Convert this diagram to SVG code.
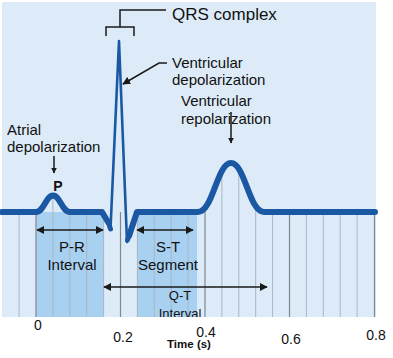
<svg xmlns="http://www.w3.org/2000/svg" width="393" height="358" viewBox="0 0 393 358">
<style>
text{font-family:"Liberation Sans",Arial,sans-serif;fill:#111}
.lbl{font-size:15px}
.ax{font-size:14px;text-anchor:middle}
.grid{stroke:#aab6c3;stroke-width:1}
.major{stroke:#7d8894;stroke-width:1.2}
.ptr{stroke:#1a1a1a;stroke-width:1.5;fill:none}
.ecg{fill:none;stroke:#1b58a4;stroke-linejoin:round;stroke-linecap:round}
</style>
<defs>
<marker id="ah" viewBox="0 0 10 10" refX="9" refY="5" markerWidth="6" markerHeight="6" orient="auto-start-reverse" markerUnits="userSpaceOnUse">
<path d="M0,0 L10,5 L0,10 Z" fill="#1a1a1a"/>
</marker>
<marker id="ah2" viewBox="0 0 10 10" refX="9" refY="5" markerWidth="8" markerHeight="8" orient="auto-start-reverse" markerUnits="userSpaceOnUse">
<path d="M0,0 L10,5 L0,10 Z" fill="#1a1a1a"/>
</marker>
<clipPath id="under">
<path d="M2,212 L36,212 C44,212 46,195.5 53,195.5 C60,195.5 62,212 70,212 L198,212 C213,212 217,163 231,163 C245,163 249,212 264,212 L376,212 L376,317 L2,317 Z"/>
</clipPath>
<clipPath id="bg"><rect x="2" y="2" width="374" height="315"/></clipPath>
</defs>

<g id="background">
<rect x="2" y="2" width="374" height="315" fill="#ddebf8"/>
<rect x="36" y="212" width="68" height="105" fill="#a8d0f1"/>
<rect x="137" y="212" width="60" height="105" fill="#a8d0f1"/>
</g>

<g id="grid" clip-path="url(#under)">
<line class="grid" x1="19.1" y1="150" x2="19.1" y2="317"/>
<line class="major" x1="36" y1="150" x2="36" y2="317"/>
<line class="grid" x1="52.9" y1="150" x2="52.9" y2="317"/>
<line class="grid" x1="69.8" y1="150" x2="69.8" y2="317"/>
<line class="grid" x1="86.7" y1="150" x2="86.7" y2="317"/>
<line class="grid" x1="103.6" y1="150" x2="103.6" y2="317"/>
<line class="major" x1="120.5" y1="150" x2="120.5" y2="317"/>
<line class="grid" x1="137.4" y1="150" x2="137.4" y2="317"/>
<line class="grid" x1="154.3" y1="150" x2="154.3" y2="317"/>
<line class="grid" x1="171.2" y1="150" x2="171.2" y2="317"/>
<line class="grid" x1="188.1" y1="150" x2="188.1" y2="317"/>
<line class="major" x1="205" y1="150" x2="205" y2="317"/>
<line class="grid" x1="221.9" y1="150" x2="221.9" y2="317"/>
<line class="grid" x1="238.8" y1="150" x2="238.8" y2="317"/>
<line class="grid" x1="255.7" y1="150" x2="255.7" y2="317"/>
<line class="grid" x1="272.6" y1="150" x2="272.6" y2="317"/>
<line class="major" x1="289.5" y1="150" x2="289.5" y2="317"/>
<line class="grid" x1="306.4" y1="150" x2="306.4" y2="317"/>
<line class="grid" x1="323.3" y1="150" x2="323.3" y2="317"/>
<line class="grid" x1="340.2" y1="150" x2="340.2" y2="317"/>
<line class="grid" x1="357.1" y1="150" x2="357.1" y2="317"/>
<line class="major" x1="374.5" y1="150" x2="374.5" y2="317"/>
</g>

<g id="ecg">
<path class="ecg" stroke-width="6" stroke-linecap="butt" d="M2,212 L36,212 C44,212 46,195.5 53,195.5 C60,195.5 62,212 70,212 L102,212 L108,222"/>
<path class="ecg" stroke-width="2.6" d="M107,220 L110.5,229 L119,41 L127,242 L130,233"/>
<path class="ecg" stroke-width="5" d="M108.5,223 L110.5,229"/>
<path class="ecg" stroke-width="5" d="M127.5,240 L130,233"/>
<path class="ecg" stroke-width="6" stroke-linecap="butt" d="M129,236 L137,212 L198,212 C213,212 217,163 231,163 C245,163 249,212 264,212 L375,212"/>
<path class="ecg" stroke-width="3" d="M221,172 C225,164 228,162.5 231,162.5 C234,162.5 237,164 241,172"/>
</g>

<g id="qrs-label">
<path class="ptr" stroke="#333" d="M106,36 L106,27 L134,27 L134,36 M120,27 L120,10 L166,10"/>
<text x="172" y="20" style="font-size:17px">QRS complex</text>
</g>

<g id="ventricular-depolarization">
<text class="lbl" x="172" y="68">Ventricular</text>
<text class="lbl" x="172" y="85">depolarization</text>
<path class="ptr" d="M167,63 L159,63 L123,84" marker-end="url(#ah2)"/>
</g>

<g id="ventricular-repolarization">
<text class="lbl" x="181" y="106">Ventricular</text>
<text class="lbl" x="181" y="124">repolarization</text>
<line class="ptr" x1="231" y1="112" x2="231" y2="143" marker-end="url(#ah)"/>
</g>

<g id="atrial-depolarization">
<text class="lbl" x="7" y="135">Atrial</text>
<text class="lbl" x="7" y="152">depolarization</text>
<line class="ptr" x1="54" y1="156" x2="54" y2="173" marker-end="url(#ah)"/>
<text x="58" y="191" style="font-size:14px;font-weight:bold;text-anchor:middle">P</text>
</g>

<g id="connectors">
<line class="ptr" x1="37" y1="230" x2="103" y2="230" marker-start="url(#ah2)" marker-end="url(#ah2)"/>
<line class="ptr" x1="137" y1="230" x2="193" y2="230" marker-start="url(#ah2)" marker-end="url(#ah2)"/>
<line class="ptr" x1="104" y1="287" x2="267" y2="287" marker-start="url(#ah2)" marker-end="url(#ah2)"/>
</g>

<g id="pr-interval">
<text class="lbl" x="72" y="252" text-anchor="middle">P-R</text>
<text class="lbl" x="72" y="270" text-anchor="middle">Interval</text>
</g>
<g id="st-segment">
<text class="lbl" x="168" y="252" text-anchor="middle">S-T</text>
<text class="lbl" x="168" y="270" text-anchor="middle">Segment</text>
</g>
<g id="qt-interval" clip-path="url(#bg)">
<text x="180" y="300" style="font-size:13px;text-anchor:middle">Q-T</text>
<text x="180" y="318" style="font-size:13px;text-anchor:middle">Interval</text>
</g>

<g id="axis">
<text class="ax" x="38" y="330">0</text>
<text class="ax" x="123" y="342">0.2</text>
<text class="ax" x="206" y="337">0.4</text>
<text class="ax" x="291" y="344">0.6</text>
<text class="ax" x="376" y="340">0.8</text>
<text x="189" y="348" style="font-size:11.5px;font-weight:bold;text-anchor:middle">Time (s)</text>
</g>
</svg>
